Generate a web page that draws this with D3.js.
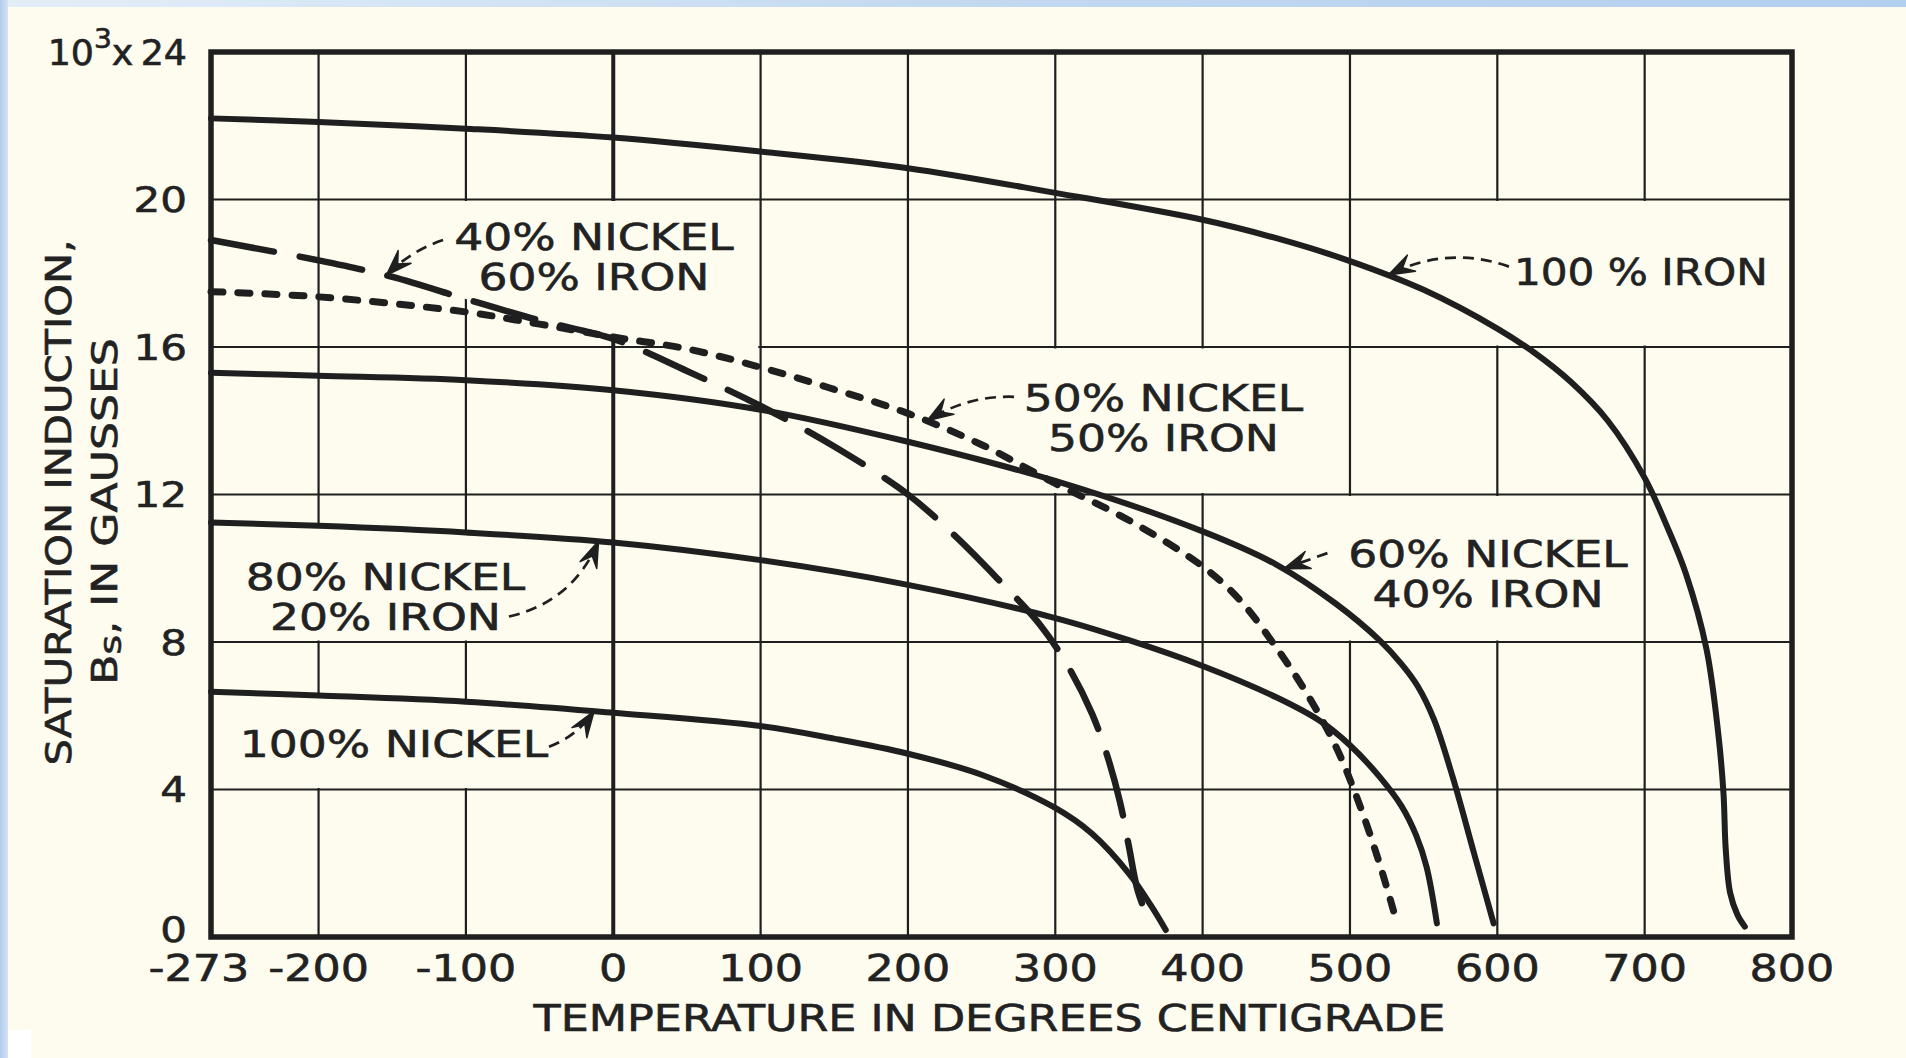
<!DOCTYPE html>
<html>
<head>
<meta charset="utf-8">
<title>Saturation induction of nickel-iron alloys versus temperature</title>
<script src="https://cdn.jsdelivr.net/npm/d3@7/dist/d3.min.js"></script>
<style>
  html, body { margin: 0; padding: 0; background: #fdfcef; overflow: hidden; }
  svg { display: block; }
  text { font-family: "DejaVu Sans", "Liberation Sans", sans-serif; fill: #222; stroke: #222; stroke-width: 0.6px; }
</style>
</head>
<body>
<svg id="chart" width="1906" height="1058"></svg>
<script>
// ---- axis ticks ----
const temperatureTicks = [-273, -200, -100, 0, 100, 200, 300, 400, 500, 600, 700, 800];
const temperatureTickLabels = ["-273", "-200", "-100", "0", "100", "200", "300", "400", "500", "600", "700", "800"];
const inductionTicks = [0, 4, 8, 12, 16, 20, 24];

// ---- saturation induction Bs (thousands of gauss) against temperature (deg C) ----
const iron100 = [[-273, 22.2], [-200, 22.1], [-100, 21.92], [0, 21.68], [100, 21.3], [200, 20.85],
  [300, 20.18], [400, 19.45], [450, 18.95], [500, 18.33], [550, 17.55], [600, 16.5], [625, 15.85],
  [650, 15.05], [675, 14.0], [700, 12.45], [715, 11.15], [728, 9.85], [742, 7.8], [750, 5.5],
  [753.5, 3.9], [755, 2.4], [758, 1.2], [763, 0.6], [768, 0.28]];
const nickel40Iron60 = [[-273, 18.9], [-200, 18.35], [-150, 17.9], [-100, 17.3], [-50, 16.72],
  [0, 16.22], [50, 15.35], [100, 14.4], [150, 13.3], [200, 12.0], [230, 10.95], [260, 9.75],
  [290, 8.45], [310, 7.25], [325, 6.05], [335, 4.95], [344, 3.65], [350, 2.45], [356, 1.25], [365, 0.28]];
const nickel50Iron50 = [[-273, 17.5], [-200, 17.36], [-100, 16.95], [-50, 16.62], [0, 16.27],
  [50, 15.95], [100, 15.45], [150, 14.85], [200, 14.2], [250, 13.35], [300, 12.3], [350, 11.3],
  [400, 10.05], [425, 9.15], [450, 7.85], [470, 6.65], [490, 5.2], [505, 3.75], [520, 2.0], [532, 0.37]];
const nickel60Iron40 = [[-273, 15.3], [-200, 15.22], [-100, 15.1], [0, 14.83], [100, 14.3],
  [200, 13.43], [300, 12.37], [400, 11.0], [450, 10.1], [490, 9.05], [520, 8.05], [535, 7.4],
  [546, 6.8], [557, 5.9], [570, 4.3], [584, 2.3], [597.5, 0.37]];
const nickel80Iron20 = [[-273, 11.24], [-200, 11.15], [-100, 10.97], [0, 10.7], [100, 10.22],
  [200, 9.55], [300, 8.65], [350, 8.05], [400, 7.35], [450, 6.5], [480, 5.85], [500, 5.2],
  [520, 4.35], [535, 3.55], [545, 2.75], [552, 1.9], [559, 0.37]];
const nickel100 = [[-273, 6.65], [-200, 6.55], [-100, 6.38], [0, 6.08], [100, 5.72], [150, 5.38],
  [200, 4.97], [250, 4.4], [300, 3.5], [325, 2.8], [350, 1.72], [365, 0.85], [375, 0.19]];

// ---- curve labels ----
const curveLabels = [["100 % IRON"], ["40% NICKEL", "60% IRON"], ["50% NICKEL", "50% IRON"],
  ["60% NICKEL", "40% IRON"], ["80% NICKEL", "20% IRON"], ["100% NICKEL"]];

// ---------------------------------------------------------------------------
const W = 1906, H = 1058;
const INK = "#1f1f1f", PAPER = "#fdfcef";
const STRETCH = 1.2;           // wide stencil-style lettering

const x = d3.scaleLinear().domain([-273, 800]).range([211, 1792]);
const y = d3.scaleLinear().domain([0, 24]).range([937, 52]);

const series = [
  { id: "fe100", values: iron100,        lines: curveLabels[0], dash: null,    width: 6 },
  { id: "ni40",  values: nickel40Iron60, lines: curveLabels[1], dash: "64 26", width: 6.5 },
  { id: "ni50",  values: nickel50Iron50, lines: curveLabels[2], dash: "12 15", width: 7 },
  { id: "ni60",  values: nickel60Iron40, lines: curveLabels[3], dash: null,    width: 6 },
  { id: "ni80",  values: nickel80Iron20, lines: curveLabels[4], dash: null,    width: 6 },
  { id: "ni100", values: nickel100,      lines: curveLabels[5], dash: null,    width: 6 }
];

// where each label sits (data units) and where its leader arrow starts / lands
const placement = {
  fe100: { at: [611.3, 17.68], anchor: "start",  from: [607.9, 18.18], tipT: 526, bend: 26, stretch: 1.11 },
  ni40:  { at: [-13.1, 18.63], anchor: "middle", from: [-115.5, 18.9], tipT: -154, bend: 8 },
  ni50:  { at: [373.4, 14.26], anchor: "middle", from: [272, 14.65],   tipT: 213, bend: 14 },
  ni60:  { at: [593.7, 10.04], anchor: "middle", from: [484.7, 10.41], tipT: 455, bend: 0 },
  ni80:  { at: [-154.6, 9.41], anchor: "middle", from: [-70.8, 8.69],  tipT: -10, bend: 30 },
  ni100: { at: [-148.8, 4.89], anchor: "middle", from: [-43.6, 5.16],  tipT: -13, bend: 9 }
};

// grid cells left open behind the lettering
const blanks = [
  { t: [-200, 100], top: 20, bottom: ["ni40", "ni50"] },
  { t: [200, 500], top: 16, bottom: 12 },
  { t: [400, 700], top: 12, bottom: 8 },
  { t: [500, 800], top: 20, bottom: 16 },
  { t: [-273, 0], top: "ni80", bottom: 8 },
  { t: [-273, 0], top: "ni100", bottom: 4 }
];

const svg = d3.select("#chart");
const defs = svg.append("defs");

// ---- paper with its tinted edges ----
const gTop = defs.append("linearGradient").attr("id", "edgeTop").attr("x1", 0).attr("x2", 1).attr("y1", 0).attr("y2", 0);
gTop.append("stop").attr("offset", 0).attr("stop-color", "#e4eef8");
gTop.append("stop").attr("offset", 0.5).attr("stop-color", "#c3d9f0");
gTop.append("stop").attr("offset", 1).attr("stop-color", "#b3cfee");
const gLeft = defs.append("linearGradient").attr("id", "edgeLeft").attr("x1", 0).attr("x2", 1).attr("y1", 0).attr("y2", 0);
gLeft.append("stop").attr("offset", 0).attr("stop-color", "#b2cdeb");
gLeft.append("stop").attr("offset", 1).attr("stop-color", "#d2e3f4");

svg.append("rect").attr("width", W).attr("height", H).attr("fill", PAPER);
svg.append("rect").attr("width", W).attr("height", 7).attr("fill", "url(#edgeTop)");
svg.append("rect").attr("width", 8).attr("height", H).attr("fill", "url(#edgeLeft)");
svg.append("rect").attr("x", 8).attr("y", 1030).attr("width", 23).attr("height", 28).attr("fill", "#ffffff");

const gridLayer = svg.append("g");
const blankLayer = svg.append("g");
const curveLayer = svg.append("g");
const frameLayer = svg.append("g");
const textLayer = svg.append("g");
const arrowLayer = svg.append("g");

// ---- grid ----
gridLayer.selectAll("line.v")
  .data(temperatureTicks.filter(t => t > -273 && t < 800))
  .join("line")
  .attr("x1", d => x(d)).attr("x2", d => x(d))
  .attr("y1", y(24)).attr("y2", y(0))
  .attr("stroke", INK).attr("stroke-width", d => d === 0 ? 4 : 2.2);
gridLayer.selectAll("line.h")
  .data(inductionTicks.filter(b => b > 0 && b < 24))
  .join("line")
  .attr("x1", x(-273)).attr("x2", x(800))
  .attr("y1", d => y(d)).attr("y2", d => y(d))
  .attr("stroke", INK).attr("stroke-width", 2.2);

// ---- curves ----
const line = d3.line()
  .x(d => x(d[0])).y(d => y(d[1]))
  .curve(d3.curveCatmullRom.alpha(0.5));

const curveY = {};
series.forEach(s => {
  const path = curveLayer.append("path")
    .datum(s.values)
    .attr("d", line)
    .attr("fill", "none")
    .attr("stroke", INK)
    .attr("stroke-width", s.width)
    .attr("stroke-linecap", "round")
    .attr("stroke-linejoin", "round")
    .attr("stroke-dasharray", s.dash);
  // sample the drawn curve so masks and arrow tips follow it exactly
  const node = path.node(), total = node.getTotalLength(), pts = [];
  for (let l = 0; l <= total; l += 1.5) { const p = node.getPointAtLength(l); pts.push([p.x, p.y]); }
  pts.sort((a, b) => a[0] - b[0]);
  const bis = d3.bisector(p => p[0]).left;
  curveY[s.id] = px => {
    const i = Math.max(1, Math.min(pts.length - 1, bis(pts, px)));
    const a = pts[i - 1], b = pts[i];
    const k = b[0] === a[0] ? 0 : (px - a[0]) / (b[0] - a[0]);
    return a[1] + k * (b[1] - a[1]);
  };
});

// ---- blank panels behind lettering ----
function edgeY(spec, px, isTop) {
  if (typeof spec === "number") return y(spec) + (isTop ? 1.6 : -1.6);
  if (Array.isArray(spec)) return Math.min(...spec.map(id => curveY[id](px)));
  return curveY[spec](px);
}
blanks.forEach(b => {
  const x0 = x(b.t[0]) + 2.3, x1 = x(b.t[1]) - 2.3;
  const xs = d3.range(x0, x1, 2).concat([x1]);
  const topPts = xs.map(px => [px, edgeY(b.top, px, true)]);
  const botPts = xs.map(px => [px, edgeY(b.bottom, px, false)]).reverse();
  blankLayer.append("path")
    .attr("d", "M" + topPts.concat(botPts).map(p => p.join(",")).join("L") + "Z")
    .attr("fill", PAPER);
});

// ---- frame ----
frameLayer.append("rect")
  .attr("x", x(-273)).attr("y", y(24))
  .attr("width", x(800) - x(-273)).attr("height", y(0) - y(24))
  .attr("fill", "none").attr("stroke", INK).attr("stroke-width", 5.5);

// widen lettering uniformly
function widen(sel, factor = STRETCH) {
  sel.each(function () {
    const w = this.getComputedTextLength();
    this.setAttribute("textLength", (w * factor).toFixed(1));
    this.setAttribute("lengthAdjust", "spacingAndGlyphs");
  });
  return sel;
}

// ---- tick labels ----
textLayer.selectAll("text.xt")
  .data(temperatureTicks)
  .join("text")
  .attr("x", d => x(d) + (d === -273 ? -12 : 0))
  .attr("y", y(0) + 44)
  .attr("text-anchor", "middle")
  .attr("font-size", 37)
  .text((d, i) => temperatureTickLabels[i])
  .call(widen);

textLayer.selectAll("text.yt")
  .data(inductionTicks.filter(b => b < 24))
  .join("text")
  .attr("x", x(-273) - 24)
  .attr("y", d => y(d) + (d === 0 ? -8 : 0))
  .attr("dy", "0.36em")
  .attr("text-anchor", "end")
  .attr("font-size", 35)
  .text(d => d)
  .call(widen);

const topTick = textLayer.append("text")
  .attr("x", x(-273) - 24).attr("y", y(24)).attr("dy", "0.36em")
  .attr("text-anchor", "end").attr("font-size", 35);
topTick.append("tspan").text("10");
topTick.append("tspan").attr("font-size", 27).attr("dy", -17).text("3");
topTick.append("tspan").attr("dy", 17).text("x\u200924");
widen(topTick, 1.04);

// ---- axis titles ----
const midX = (x(-273) + x(800)) / 2, midY = (y(0) + y(24)) / 2;
textLayer.append("text")
  .attr("x", midX - 12).attr("y", y(0) + 94)
  .attr("text-anchor", "middle").attr("font-size", 37)
  .text("TEMPERATURE IN DEGREES CENTIGRADE")
  .call(widen);

textLayer.append("text")
  .attr("transform", `translate(71,${midY + 8}) rotate(-90)`)
  .attr("text-anchor", "middle").attr("font-size", 35)
  .text("SATURATION INDUCTION,")
  .call(widen, 1.19);

const yTitle2 = textLayer.append("text")
  .attr("transform", `translate(117,${midY + 17}) rotate(-90)`)
  .attr("text-anchor", "middle").attr("font-size", 35);
yTitle2.append("tspan").text("B");
yTitle2.append("tspan").attr("font-size", 30).attr("dy", 4).text("s");
yTitle2.append("tspan").attr("dy", -4).text(", IN GAUSSES");
widen(yTitle2, 1.26);

// ---- curve labels with leader arrows ----
series.forEach(s => {
  const p = placement[s.id];
  s.lines.forEach((txt, i) => {
    textLayer.append("text")
      .attr("x", x(p.at[0])).attr("y", y(p.at[1]) + i * 40)
      .attr("text-anchor", p.anchor).attr("font-size", 38)
      .text(txt)
      .call(widen, p.stretch || STRETCH);
  });

  const p0 = [x(p.from[0]), y(p.from[1])];
  const tx = x(p.tipT), tip = [tx, curveY[s.id](tx)];
  const dx = tip[0] - p0[0], dy = tip[1] - p0[1], len = Math.hypot(dx, dy);
  const c = [(p0[0] + tip[0]) / 2 - dy / len * p.bend, (p0[1] + tip[1]) / 2 + dx / len * p.bend];
  arrowLayer.append("path")
    .attr("d", `M${p0[0]},${p0[1]}Q${c[0]},${c[1]} ${tip[0]},${tip[1]}`)
    .attr("fill", "none").attr("stroke", INK).attr("stroke-width", 2.7)
    .attr("stroke-dasharray", "11 7");
  let ux = tip[0] - c[0], uy = tip[1] - c[1];
  const ul = Math.hypot(ux, uy); ux /= ul; uy /= ul;
  const L = 26, Wd = 9;
  const bx = tip[0] - ux * L, by = tip[1] - uy * L;
  const nx = tip[0] - ux * L * 0.62, ny = tip[1] - uy * L * 0.62;
  arrowLayer.append("path")
    .attr("d", `M${tip[0]},${tip[1]}L${bx - uy * Wd},${by + ux * Wd}L${nx},${ny}L${bx + uy * Wd},${by - ux * Wd}Z`)
    .attr("fill", INK).attr("stroke", INK).attr("stroke-width", 1.5).attr("stroke-linejoin", "round");
});
</script>
</body>
</html>
